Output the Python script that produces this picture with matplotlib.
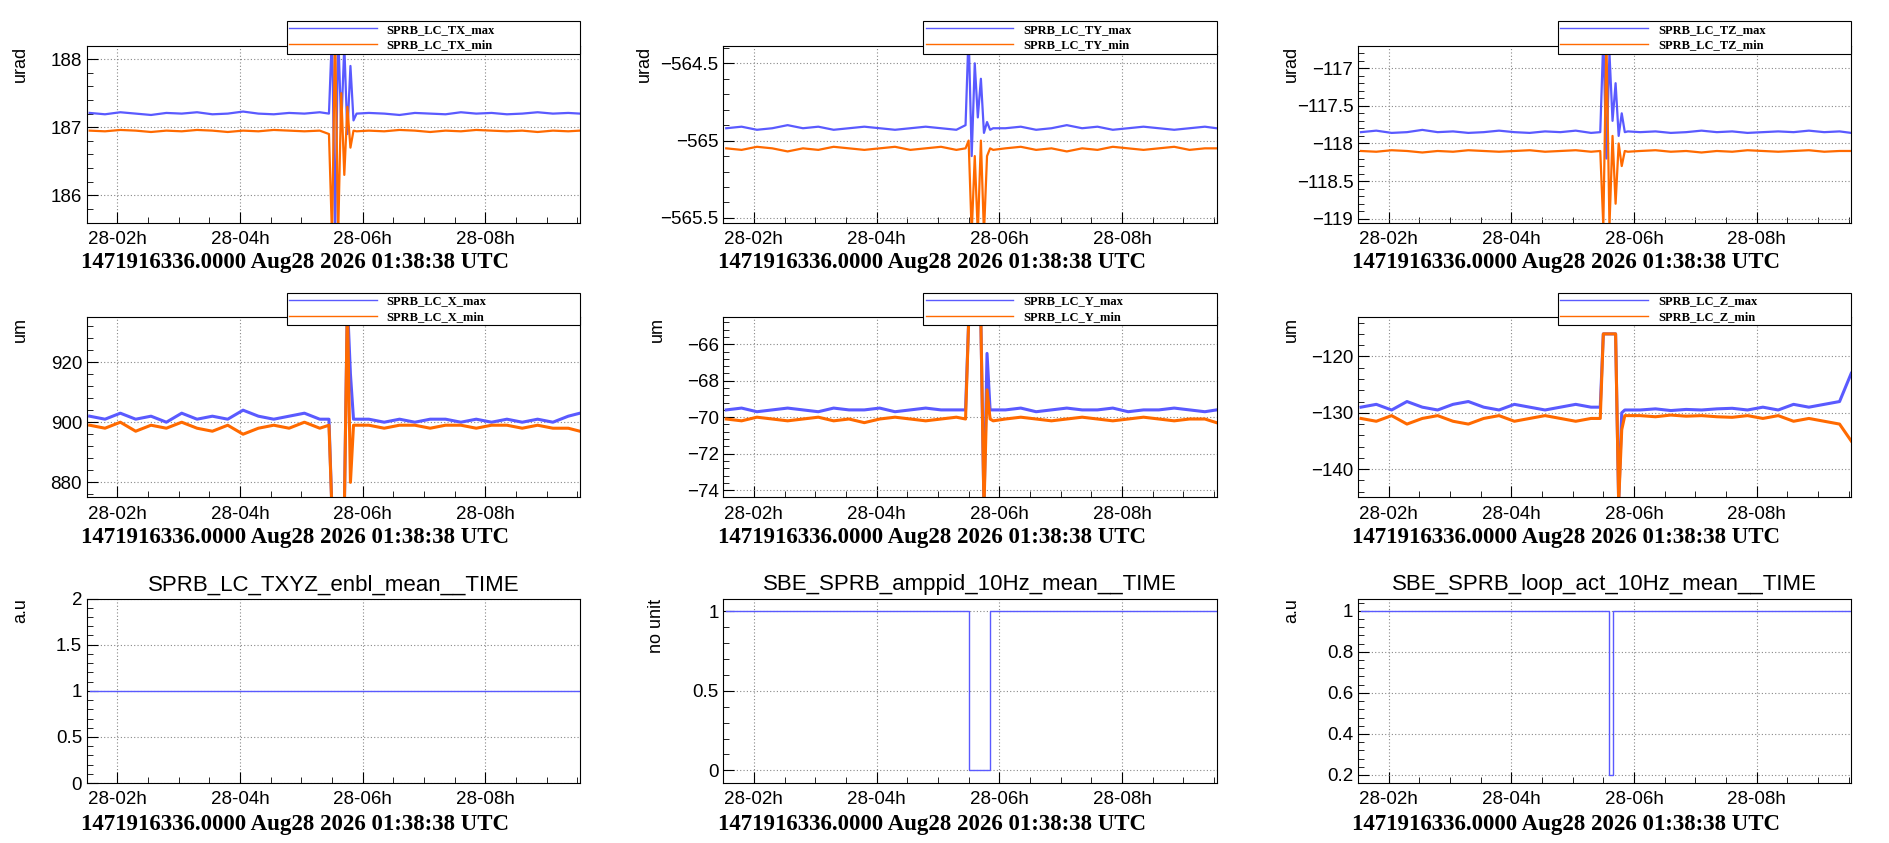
import matplotlib
matplotlib.use("Agg")
import matplotlib.pyplot as plt
from matplotlib.ticker import AutoMinorLocator

# time in hours of 28 Aug
t = [1.55, 1.8, 2.05, 2.3, 2.55, 2.8, 3.05, 3.3, 3.55, 3.8, 4.05, 4.3, 4.55, 4.8, 5.05, 5.3,
     5.45, 5.5, 5.55, 5.6, 5.65, 5.7, 5.75, 5.8, 5.85, 5.9,
     6.1, 6.35, 6.6, 6.85, 7.1, 7.35, 7.6, 7.85, 8.1, 8.35, 8.6, 8.85, 9.1, 9.35, 9.54]

tx_max = [187.21, 187.19, 187.22, 187.2, 187.18, 187.21, 187.2, 187.22, 187.19, 187.2, 187.23, 187.2, 187.19, 187.21, 187.2, 187.22,
          187.2, 188.4, 185.4, 188.4, 187.0, 188.2, 186.9, 187.9, 187.1, 187.2,
          187.21, 187.2, 187.18, 187.21, 187.2, 187.19, 187.22, 187.2, 187.21, 187.19, 187.2, 187.22, 187.2, 187.21, 187.2]
tx_min = [186.95, 186.94, 186.96, 186.95, 186.93, 186.95, 186.94, 186.96, 186.95, 186.93, 186.95, 186.94, 186.96, 186.95, 186.94, 186.95,
          186.9, 185.4, 188.4, 185.4, 187.5, 186.3, 187.3, 186.7, 186.95, 186.94,
          186.95, 186.94, 186.96, 186.95, 186.93, 186.95, 186.94, 186.96, 186.95, 186.94, 186.95, 186.93, 186.95, 186.94, 186.95]

ty_max = [-564.92, -564.91, -564.93, -564.92, -564.9, -564.92, -564.91, -564.93, -564.92, -564.91, -564.92, -564.93, -564.92, -564.91, -564.92, -564.93,
          -564.9, -564.3, -565.1, -564.5, -564.85, -564.6, -564.95, -564.88, -564.93, -564.92,
          -564.92, -564.91, -564.93, -564.92, -564.9, -564.92, -564.91, -564.93, -564.92, -564.91, -564.92, -564.93, -564.92, -564.91, -564.92]
ty_min = [-565.05, -565.06, -565.04, -565.05, -565.07, -565.05, -565.06, -565.04, -565.05, -565.06, -565.05, -565.04, -565.06, -565.05, -565.04, -565.06,
          -565.05, -565.0, -565.6, -565.1, -565.6, -565.0, -565.6, -565.1, -565.05, -565.06,
          -565.05, -565.04, -565.06, -565.05, -565.07, -565.05, -565.06, -565.04, -565.05, -565.06, -565.05, -565.04, -565.06, -565.05, -565.05]

tz_max = [-117.85, -117.83, -117.86, -117.85, -117.82, -117.85, -117.84, -117.86, -117.85, -117.83, -117.85, -117.86, -117.84, -117.85, -117.83, -117.86,
          -117.85, -116.6, -118.2, -116.8, -117.7, -117.2, -117.9, -117.6, -117.85, -117.84,
          -117.85, -117.84, -117.86, -117.85, -117.83, -117.85, -117.84, -117.86, -117.85, -117.84, -117.85, -117.83, -117.85, -117.84, -117.86]
tz_min = [-118.1, -118.11, -118.09, -118.1, -118.12, -118.1, -118.11, -118.09, -118.1, -118.11, -118.1, -118.09, -118.11, -118.1, -118.09, -118.11,
          -118.1, -119.1, -116.6, -119.1, -117.9, -118.8, -118.0, -118.3, -118.1, -118.11,
          -118.1, -118.09, -118.11, -118.1, -118.12, -118.1, -118.11, -118.09, -118.1, -118.11, -118.1, -118.09, -118.11, -118.1, -118.1]

x_max = [902, 901, 903, 901, 902, 900, 903, 901, 902, 901, 904, 902, 901, 902, 903, 901,
         901, 870, 870, 870, 870, 870, 940, 916, 901, 901,
         901, 900, 901, 900, 901, 901, 900, 901, 900, 901, 900, 901, 900, 902, 903]
x_min = [899, 898, 900, 897, 899, 898, 900, 898, 897, 899, 896, 898, 899, 898, 900, 898,
         899, 870, 870, 870, 870, 870, 940, 880, 899, 899,
         899, 898, 899, 899, 898, 899, 899, 898, 899, 899, 898, 899, 898, 898, 897]

y_max = [-69.6, -69.5, -69.7, -69.6, -69.5, -69.6, -69.7, -69.5, -69.6, -69.6, -69.5, -69.7, -69.6, -69.5, -69.6, -69.6,
         -69.6, -64.8, -64.8, -64.8, -64.8, -64.8, -75, -66.5, -69.6, -69.6,
         -69.6, -69.5, -69.7, -69.6, -69.5, -69.6, -69.6, -69.5, -69.7, -69.6, -69.6, -69.5, -69.6, -69.7, -69.6]
y_min = [-70.1, -70.2, -70.0, -70.1, -70.2, -70.1, -70.0, -70.2, -70.1, -70.3, -70.1, -70.0, -70.1, -70.2, -70.1, -70.0,
         -70.1, -64.8, -64.8, -64.8, -64.8, -64.8, -75, -68.5, -70.1, -70.2,
         -70.1, -70.0, -70.1, -70.2, -70.1, -70.0, -70.1, -70.2, -70.1, -70.0, -70.1, -70.2, -70.1, -70.1, -70.3]

z_max = [-129, -128.5, -129.5, -128, -129, -129.5, -128.5, -128, -129, -129.5, -128.5, -129, -129.5, -129, -128.5, -129,
         -129, -116, -116, -116, -116, -116, -146, -130, -129.5, -129.5,
         -129.5, -129.3, -129.6, -129.4, -129.5, -129.3, -129.2, -129.5, -129, -129.5, -128.5, -129, -128.5, -128, -123]
z_min = [-131, -131.5, -130.5, -132, -131, -130.5, -131.5, -132, -131, -130.5, -131.5, -131, -130.5, -131, -131.5, -131,
         -131, -116, -116, -116, -116, -116, -146, -133, -130.5, -130.5,
         -130.5, -130.7, -130.4, -130.6, -130.5, -130.7, -130.8, -130.5, -131, -130.5, -131.5, -131, -131.5, -132, -135]

enbl = [1.0] * 41
amppid = [1, 1, 1, 1, 1, 1, 1, 1, 1, 1, 1, 1, 1, 1, 1, 1,
          1, 0, 0, 0, 0, 0, 0, 0, 1, 1,
          1, 1, 1, 1, 1, 1, 1, 1, 1, 1, 1, 1, 1, 1, 1]
loop_act = [1, 1, 1, 1, 1, 1, 1, 1, 1, 1, 1, 1, 1, 1, 1, 1,
            1, 1, 1, 0.2, 1, 1, 1, 1, 1, 1,
            1, 1, 1, 1, 1, 1, 1, 1, 1, 1, 1, 1, 1, 1, 1]

xticks = [2, 4, 6, 8]
xticklabels = ["28-02h", "28-04h", "28-06h", "28-08h"]
stamp = "1471916336.0000 Aug28 2026 01:38:38 UTC"

BLUE = "#5a5aff"
ORANGE = "#ff6a00"

fig = plt.figure(figsize=(18.89, 8.43), dpi=100)
lefts = [0.046, 0.383, 0.719]
width = 0.261
rows = [(0.736, 0.210), (0.410, 0.214), (0.071, 0.219)]

pair_panels = [
    ("SPRB_LC_TX", tx_max, tx_min, (185.6, 188.2), [186, 187, 188], "urad"),
    ("SPRB_LC_TY", ty_max, ty_min, (-565.53, -564.385), [-565.5, -565, -564.5], "urad"),
    ("SPRB_LC_TZ", tz_max, tz_min, (-119.05, -116.7), [-119, -118.5, -118, -117.5, -117], "urad"),
    ("SPRB_LC_X", x_max, x_min, (875, 935), [880, 900, 920], "um"),
    ("SPRB_LC_Y", y_max, y_min, (-74.4, -64.5), [-74, -72, -70, -68, -66], "um"),
    ("SPRB_LC_Z", z_max, z_min, (-145, -113), [-140, -130, -120], "um"),
]
single_panels = [
    ("SPRB_LC_TXYZ_enbl_mean__TIME", enbl, (0, 2), [0, 0.5, 1, 1.5, 2], "a.u"),
    ("SBE_SPRB_amppid_10Hz_mean__TIME", amppid, (-0.08, 1.08), [0, 0.5, 1], "no unit"),
    ("SBE_SPRB_loop_act_10Hz_mean__TIME", loop_act, (0.16, 1.06), [0.2, 0.4, 0.6, 0.8, 1], "a.u"),
]


def style_axis(ax, ylim, yticks, unit, ux=-0.135):
    ax.set_xlim(1.505, 9.54)
    ax.set_ylim(*ylim)
    ax.set_xticks(xticks)
    ax.set_xticklabels(xticklabels)
    ax.set_yticks(yticks)
    ax.set_yticklabels([("%g" % v).replace("-", "\u2212") for v in yticks])
    for lab in ax.get_xticklabels() + ax.get_yticklabels():
        lab.set_family("Liberation Sans")
    ax.xaxis.set_minor_locator(AutoMinorLocator(4))
    ax.yaxis.set_minor_locator(AutoMinorLocator(5))
    ax.tick_params(which="both", direction="in", top=False, right=False, labelsize=13.5)
    ax.tick_params(axis="x", pad=6)
    ax.tick_params(which="major", length=8)
    ax.tick_params(which="minor", length=4)
    ax.grid(True, which="major", linestyle=(0, (1, 2)), color="#888888", lw=0.8)
    ax.text(ux, 1.0, unit, transform=ax.transAxes, rotation=90, ha="center", va="top",
            fontsize=13, family="Liberation Sans")
    ax.text(-0.012, -0.225, stamp, transform=ax.transAxes, ha="left", va="center",
            fontsize=16.5, fontweight="bold", family="Liberation Serif")
    for s in ax.spines.values():
        s.set_linewidth(0.8)


for i, (name, vmax, vmin, ylim, yticks, unit) in enumerate(pair_panels):
    r, c = divmod(i, 3)
    ax = fig.add_axes([lefts[c], rows[r][0], width, rows[r][1]])
    ax.plot(t, vmax, color=BLUE, lw=1.6 if r == 0 else 2.2, label=name + "_max")
    ax.plot(t, vmin, color=ORANGE, lw=1.6 if r == 0 else 2.2, label=name + "_min")
    style_axis(ax, ylim, yticks, unit, -0.16 if i == 1 else -0.135)
    h = 0.048 / rows[r][1]
    leg = ax.legend(loc="lower left", bbox_to_anchor=(0.405, 1.0 - 0.01 / rows[r][1], 0.595, h), mode="expand",
                    prop={"family": "Liberation Serif", "weight": "bold", "size": 9}, frameon=True,
                    fancybox=False, edgecolor="black", handlelength=7, borderaxespad=0,
                    labelspacing=0.3, borderpad=0.2, framealpha=1)
    leg.get_frame().set_linewidth(0.8)
    for ln in leg.get_lines():
        ln.set_linewidth(1.0)

for c, (name, vals, ylim, yticks, unit) in enumerate(single_panels):
    ax = fig.add_axes([lefts[c], rows[2][0], width, rows[2][1]])
    ax.step(t, vals, where="post", color=BLUE, lw=1.0)
    style_axis(ax, ylim, yticks, unit)
    ax.set_title(name, fontsize=16, pad=6, family="Liberation Sans")

fig.savefig("out.png", dpi=100)
